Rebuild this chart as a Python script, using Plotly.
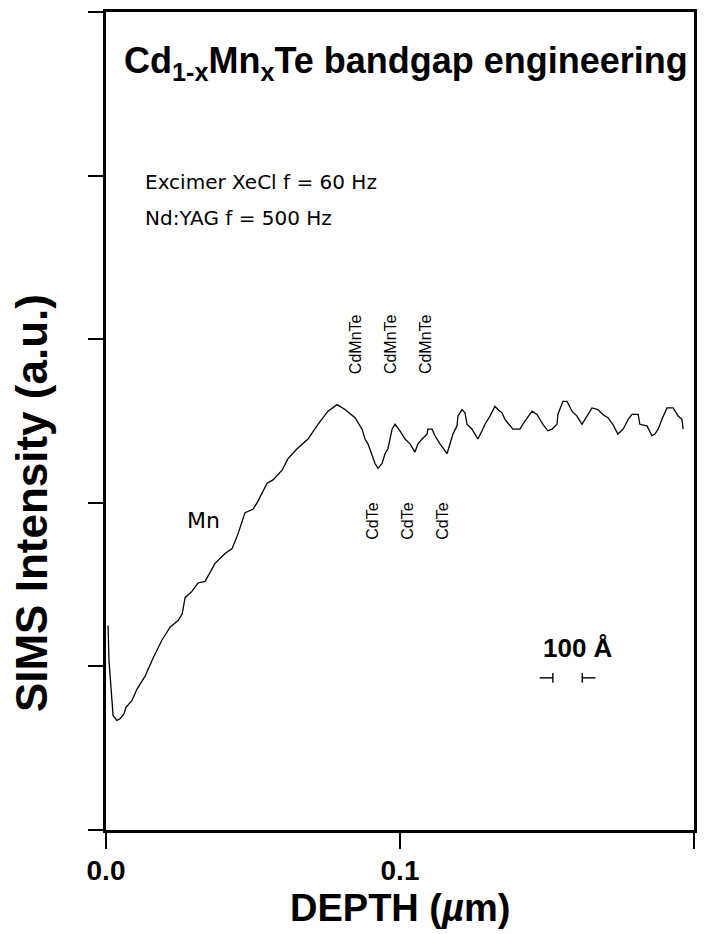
import plotly.graph_objects as go

# SIMS depth profile of Mn in a Cd(1-x)Mn(x)Te superlattice
depth_um = [
    0.0007, 0.0010, 0.0017, 0.0024, 0.0037, 0.0048, 0.0061, 0.0068, 0.0088, 0.0105,
    0.0133, 0.0160, 0.0190, 0.0218, 0.0245, 0.0259, 0.0269, 0.0293, 0.0313, 0.0337,
    0.0371, 0.0405, 0.0429, 0.0449, 0.0473, 0.0500, 0.0517, 0.0548, 0.0568, 0.0599,
    0.0619, 0.0650, 0.0687, 0.0721, 0.0755, 0.0786, 0.0813, 0.0847, 0.0871, 0.0881,
    0.0891, 0.0908, 0.0915, 0.0925, 0.0939, 0.0949, 0.0959, 0.0966, 0.0973, 0.0983,
    0.1000, 0.1017, 0.1034, 0.1051, 0.1061, 0.1075, 0.1092, 0.1095, 0.1109, 0.1119,
    0.1136, 0.1160, 0.1170, 0.1180, 0.1194, 0.1197, 0.1211, 0.1221, 0.1228, 0.1245,
    0.1255, 0.1265, 0.1279, 0.1289, 0.1306, 0.1323, 0.1333, 0.1347, 0.1357, 0.1374,
    0.1384, 0.1408, 0.1425, 0.1449, 0.1466, 0.1486, 0.1503, 0.1517, 0.1534, 0.1537,
    0.1554, 0.1568, 0.1585, 0.1602, 0.1619, 0.1636, 0.1653, 0.1673, 0.1690, 0.1707,
    0.1724, 0.1741, 0.1759, 0.1776, 0.1789, 0.1810, 0.1816, 0.1840, 0.1857, 0.1867,
    0.1878, 0.1891, 0.1908, 0.1929, 0.1946, 0.1959, 0.1963,
]
mn_intensity = [
    1.25, 1.04, 0.87, 0.70, 0.67, 0.68, 0.71, 0.75, 0.79, 0.86,
    0.94, 1.05, 1.16, 1.24, 1.28, 1.32, 1.42, 1.46, 1.51, 1.52,
    1.63, 1.69, 1.72, 1.81, 1.94, 1.96, 2.01, 2.12, 2.14, 2.20,
    2.27, 2.33, 2.39, 2.48, 2.56, 2.60, 2.57, 2.52, 2.45, 2.39,
    2.36, 2.28, 2.24, 2.21, 2.24, 2.30, 2.33, 2.39, 2.45, 2.48,
    2.44, 2.39, 2.36, 2.31, 2.36, 2.39, 2.42, 2.45, 2.45, 2.41,
    2.36, 2.30, 2.36, 2.42, 2.47, 2.53, 2.57, 2.55, 2.48, 2.45,
    2.42, 2.39, 2.44, 2.48, 2.53, 2.59, 2.57, 2.55, 2.51, 2.47,
    2.45, 2.45, 2.50, 2.56, 2.54, 2.48, 2.44, 2.45, 2.48, 2.54,
    2.62, 2.62, 2.56, 2.53, 2.48, 2.53, 2.58, 2.57, 2.54, 2.52,
    2.48, 2.42, 2.45, 2.51, 2.54, 2.54, 2.48, 2.47, 2.41, 2.42,
    2.45, 2.51, 2.58, 2.58, 2.53, 2.51, 2.45,
]

x_tickvals = [0.0, 0.1, 0.2]
x_ticktext = ["0.0", "0.1", "0.2"]
y_tickvals = [0, 1, 2, 3, 4, 5]

# layer labels: Mn-rich maxima and CdTe minima
cdmnte_depths = [0.0847, 0.0966, 0.1085]
cdte_depths = [0.0908, 0.1027, 0.1146]

# 100 Å = 0.01 µm scale bar
scale_bar_start = 0.152
scale_bar_len = 0.010

FONT_B = "Liberation Sans, Arial, sans-serif"
FONT_L = "DejaVu Sans, sans-serif"

fig = go.Figure()
fig.add_trace(go.Scatter(
    x=depth_um, y=mn_intensity, mode="lines",
    line=dict(color="black", width=1.3), showlegend=False, hoverinfo="skip",
))

ann = []
ann.append(dict(
    x=0.51, xref="paper", y=4.69, yref="y",
    text="<b>Cd<sub>1-x</sub>Mn<sub>x</sub>Te bandgap engineering</b>",
    showarrow=False, font=dict(family=FONT_B, size=36, color="black"),
    xanchor="center", yanchor="middle",
))
ann.append(dict(x=0.0126, y=3.96, text="Excimer XeCl f = 60 Hz", showarrow=False,
                xanchor="left", yanchor="middle",
                font=dict(family=FONT_L, size=20, color="black")))
ann.append(dict(x=0.0126, y=3.74, text="Nd:YAG f = 500 Hz", showarrow=False,
                xanchor="left", yanchor="middle",
                font=dict(family=FONT_L, size=20, color="black")))
ann.append(dict(x=0.0333, y=1.89, text="Mn", showarrow=False,
                xanchor="center", yanchor="middle",
                font=dict(family=FONT_L, size=22, color="black")))
for d in cdmnte_depths:
    ann.append(dict(x=d, y=2.97, text="CdMnTe", textangle=-90, showarrow=False,
                    xanchor="center", yanchor="middle",
                    font=dict(family=FONT_B, size=16, color="black")))
for d in cdte_depths:
    ann.append(dict(x=d, y=1.89, text="CdTe", textangle=-90, showarrow=False,
                    xanchor="center", yanchor="middle",
                    font=dict(family=FONT_B, size=16, color="black")))
ann.append(dict(x=0.1605, y=1.11, text="<b>100 Å</b>",
                showarrow=False, xanchor="center", yanchor="middle",
                font=dict(family=FONT_B, size=26, color="black")))
ann.append(dict(x=-0.127, xref="paper", y=0.40, yref="paper",
                text="<b>SIMS Intensity (a.u.)</b>", textangle=-90, showarrow=False,
                xanchor="center", yanchor="middle",
                font=dict(family=FONT_B, size=44, color="black")))
ann.append(dict(x=0.5, xref="paper", y=-0.095, yref="paper",
                text="<b>DEPTH (<i>µ</i>m)</b>", showarrow=False,
                xanchor="center", yanchor="middle",
                font=dict(family=FONT_B, size=38, color="black")))

# scale bar end marks: ⊣ ... ⊢
x0 = scale_bar_start
x1 = scale_bar_start + scale_bar_len
arm = 0.0045
shapes = [
    dict(type="line", x0=x0 - arm, x1=x0, y0=0.93, y1=0.93, line=dict(color="black", width=1.4)),
    dict(type="line", x0=x0, x1=x0, y0=0.90, y1=0.96, line=dict(color="black", width=1.4)),
    dict(type="line", x0=x1, x1=x1 + arm, y0=0.93, y1=0.93, line=dict(color="black", width=1.4)),
    dict(type="line", x0=x1, x1=x1, y0=0.90, y1=0.96, line=dict(color="black", width=1.4)),
]

fig.update_layout(
    width=711, height=934,
    margin=dict(l=106, r=17, t=9, b=104),
    paper_bgcolor="white", plot_bgcolor="white",
    annotations=ann, shapes=shapes,
    xaxis=dict(
        range=[0, 0.2], tickvals=x_tickvals, ticktext=x_ticktext,
        ticks="outside", ticklen=16, tickwidth=1.5, tickcolor="black",
        showline=True, linewidth=2.8, linecolor="black", mirror=True,
        showgrid=False, zeroline=False, ticklabelstandoff=-3,
        tickfont=dict(family=FONT_B, size=28, color="black", weight="bold"),
    ),
    yaxis=dict(
        range=[0, 5], tickvals=y_tickvals, showticklabels=False,
        ticks="outside", ticklen=15, tickwidth=1.5, tickcolor="black",
        showline=True, linewidth=2.8, linecolor="black", mirror=True,
        showgrid=False, zeroline=False,
    ),
)

fig.write_html("out.html")
